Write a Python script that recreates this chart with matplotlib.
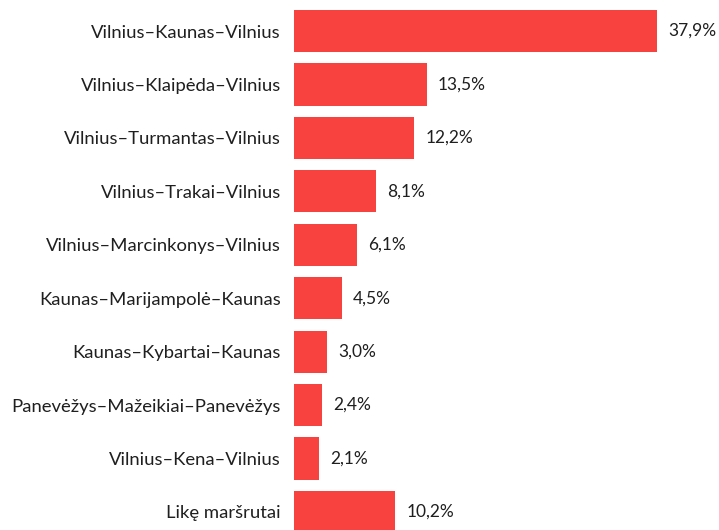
import matplotlib.pyplot as plt

routes = ['Vilnius–Kaunas–Vilnius', 'Vilnius–Klaipėda–Vilnius', 'Vilnius–Turmantas–Vilnius',
          'Vilnius–Trakai–Vilnius', 'Vilnius–Marcinkonys–Vilnius', 'Kaunas–Marijampolė–Kaunas',
          'Kaunas–Kybartai–Kaunas', 'Panevėžys–Mažeikiai–Panevėžys', 'Vilnius–Kena–Vilnius',
          'Likę maršrutai']
shares = [37.9, 13.5, 12.2, 8.1, 6.1, 4.5, 3.0, 2.4, 2.1, 10.2]

plt.rcParams['font.family'] = ['Lato', 'DejaVu Sans']

fig = plt.figure(figsize=(7.19, 5.30), dpi=100)
W, H = 719, 530
left, right = 294, 719
top, bottom = 4.3, 538.7
ax = fig.add_axes([left / W, (H - bottom) / H, (right - left) / W, (bottom - top) / H])

# bars start a little before zero so tiny values still show a stub
x0 = -0.53
y = list(range(len(routes)))
ax.barh(y, [v - x0 for v in shares], left=x0, height=0.79, color='#F7423F')
for yi, v in zip(y, shares):
    ax.annotate(f'{v:.1f}%'.replace('.', ','), (v, yi), xytext=(8, 0),
                textcoords='offset points', va='center', ha='left',
                fontsize=12.5, color='#1f1f1f')

ax.set_yticks(y)
ax.set_yticklabels(routes, fontsize=13.3, color='#1f1f1f')
ax.tick_params(axis='y', length=0, pad=9.5)
ax.set_xticks([])
ax.set_xlim(x0, x0 + (right - left) / 9.45)
ax.set_ylim(len(routes) - 0.5, -0.5)
for s in ax.spines.values():
    s.set_visible(False)

fig.savefig('out.png', dpi=100)
